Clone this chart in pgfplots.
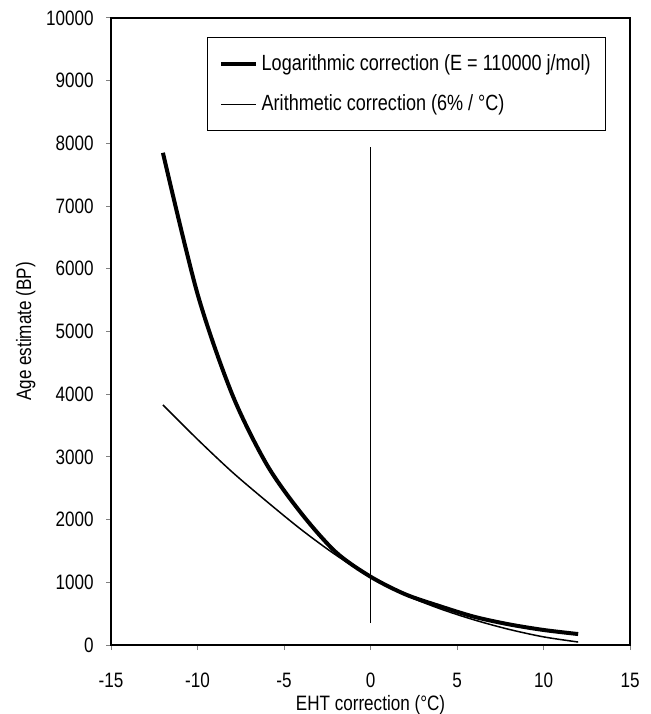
\documentclass[border=0pt]{standalone}
\usepackage{pgfplots}
\pgfplotsset{compat=1.18}
\usepackage{fontspec}
\setmainfont{Liberation Sans}[FakeStretch=0.82]
\begin{document}
\fontsize{12.5pt}{14pt}\selectfont
\begin{tikzpicture}
\begin{axis}[
  scale only axis,
  width=311.4pt, height=376.2pt,
  xmin=-15, xmax=15, ymin=0, ymax=10000,
  xtick={-15,-10,...,15}, ytick={0,1000,...,10000},
  tick pos=left, tick align=outside,
  major tick length=3pt,
  tick style={line width=0.6pt},
  scaled y ticks=false,
  /pgf/number format/assume math mode=true,
  yticklabel style={/pgf/number format/1000 sep={}, xshift=-3pt},
  xticklabel style={yshift=-9.6pt},
  xlabel={EHT correction (°C)},
  ylabel={Age estimate (BP)},
  xlabel style={yshift=4pt},
  ylabel style={yshift=-2pt},
  axis line style={line width=0.9pt},
  legend style={at={(0.185,0.970)}, anchor=north west, draw=black, line width=0.8pt,
    font=\fontsize{13.2pt}{14pt}\selectfont, row sep=9pt, inner xsep=7pt, inner ysep=8pt},
  legend cell align=left,
  legend image code/.code={\draw[#1] (0pt,0pt) -- (21pt,0pt);},
]
\addplot[black, line width=2.4pt, smooth] coordinates {
(-12,7850) (-10,5600) (-8,4000) (-6,2880) (-4,2100) (-2,1480) (0,1090) (2,810) (4,620) (6,450) (8,330) (10,240) (12,175)};
\addlegendentry{Logarithmic correction (E = 110000 j/mol)}
\addplot[black, line width=0.9pt, smooth] coordinates {
(-12,3830) (-10,3280) (-8,2760) (-6,2290) (-4,1840) (-2,1435) (0,1090) (2,800) (4,580) (6,400) (8,250) (10,130) (12,48)};
\addlegendentry{Arithmetic correction (6\% / °C)}
\addplot[black, line width=0.9pt, forget plot] coordinates {(0,350) (0,7950)};
\coordinate (bl) at (rel axis cs:-0.2139,-0.1100);
\coordinate (tr) at (rel axis cs:1.0385,1.0287);
\end{axis}
\pgfresetboundingbox
\path[use as bounding box] (bl) rectangle (tr);
\end{tikzpicture}
\end{document}
